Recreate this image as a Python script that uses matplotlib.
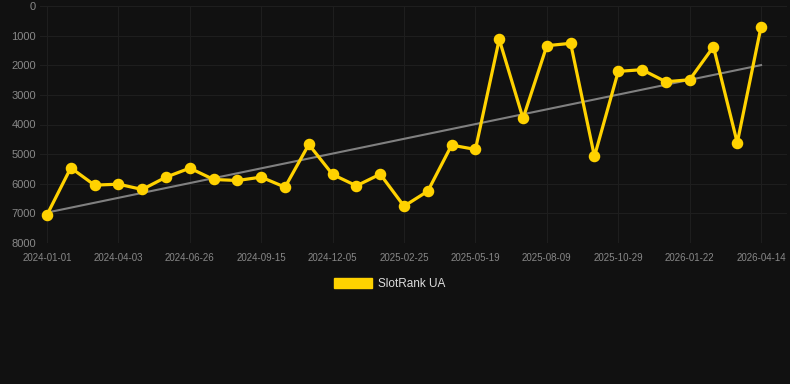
import matplotlib
matplotlib.use("Agg")
import matplotlib.pyplot as plt
import numpy as np

plt.rcParams["font.family"] = ["Liberation Sans", "DejaVu Sans"]

dates = ["2024-01-01", "2024-02-01", "2024-03-03", "2024-04-03", "2024-05-01", "2024-05-29",
         "2024-06-26", "2024-07-23", "2024-08-19", "2024-09-15", "2024-10-12", "2024-11-08",
         "2024-12-05", "2025-01-01", "2025-01-28", "2025-02-25", "2025-03-24", "2025-04-21",
         "2025-05-19", "2025-06-15", "2025-07-12", "2025-08-09", "2025-09-05", "2025-10-02",
         "2025-10-29", "2025-11-26", "2025-12-24", "2026-01-22", "2026-02-18", "2026-03-17",
         "2026-04-14"]
ranks = [7050, 5462, 6047, 6014, 6193, 5777, 5473, 5856, 5890, 5777, 6115, 4673,
         5687, 6070, 5676, 6757, 6250, 4696, 4842, 1125, 3795, 1340, 1260, 5078,
         2207, 2150, 2557, 2490, 1375, 4618, 698]
series_name = "SlotRank UA"
y_ticks = [0, 1000, 2000, 3000, 4000, 5000, 6000, 7000, 8000]

bg = "#111111"
gold = "#FFD200"

fig = plt.figure(figsize=(7.9, 3.84), dpi=100, facecolor=bg)
ax = fig.add_axes([40/790, 1-243/384, (787-40)/790, (243-6)/384])
ax.set_facecolor(bg)

x = np.arange(len(dates))
coef = np.polyfit(x, ranks, 1)
ax.plot(x, np.polyval(coef, x), color="#808080", lw=1.5, zorder=2)
ax.plot(x, ranks, color=gold, lw=2.3, marker="o", markersize=7.3, zorder=3,
        label=series_name)

ax.set_ylim(8000, 0)
ax.set_xlim(-0.294, 31.09)
ax.set_yticks(y_ticks)
ax.set_yticklabels([str(v) for v in y_ticks])
tick_idx = list(range(0, len(dates), 3))
ax.set_xticks(tick_idx)
ax.set_xticklabels([dates[i] for i in tick_idx])

ax.grid(True, color="#1e1e1e", lw=0.8)
ax.set_axisbelow(True)
for s in ax.spines.values():
    s.set_visible(False)
ax.tick_params(axis="y", colors="#888888", labelsize=8, length=0, pad=3)
ax.tick_params(axis="x", colors="#888888", labelsize=7, length=0, pad=7)
for lbl in ax.get_xticklabels() + ax.get_yticklabels():
    lbl.set_color("#888888")

leg = fig.legend(handles=[matplotlib.patches.Patch(facecolor=gold, edgecolor=gold)],
                 labels=[series_name], loc="center", bbox_to_anchor=(390/790, 1-284/384),
                 frameon=False, fontsize=8.5, handlelength=3.2, handleheight=0.85,
                 handletextpad=0.55)
for t in leg.get_texts():
    t.set_color("#dddddd")

fig.savefig("out.png", dpi=100, facecolor=bg)
